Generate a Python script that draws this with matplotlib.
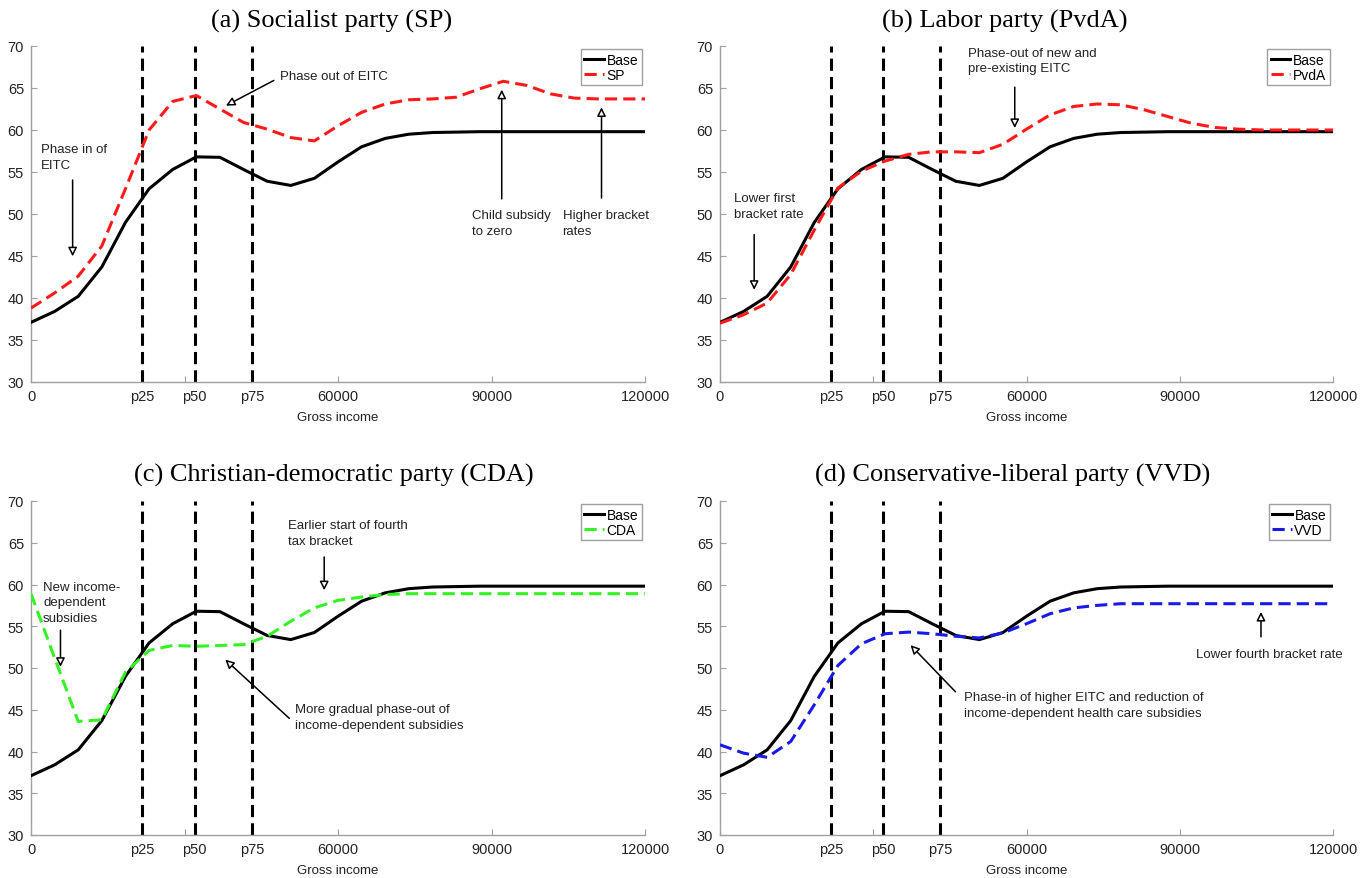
import matplotlib
matplotlib.use("Agg")
import matplotlib.pyplot as plt

plt.rcParams['font.family'] = ['Liberation Sans', 'DejaVu Sans']

# ---------------- data ----------------
income = [0, 4615, 9231, 13846, 18462, 23077, 27692, 32308, 36923, 41538, 46154,
          50769, 55385, 60000, 64615, 69231, 73846, 78462, 83077, 87692, 92308,
          96923, 101538, 106154, 110769, 115385, 120000]

base = [37.1, 38.4, 40.2, 43.7, 49.0, 53.0, 55.3, 56.8, 56.75, 55.3, 53.9,
        53.4, 54.25, 56.2, 58.0, 59.0, 59.5, 59.7, 59.75, 59.8, 59.8,
        59.8, 59.8, 59.8, 59.8, 59.8, 59.8]

sp = [38.8, 40.6, 42.6, 46.2, 53.0, 60.0, 63.4, 64.1, 62.5, 60.9, 60.1,
      59.1, 58.7, 60.5, 62.1, 63.1, 63.6, 63.7, 63.9, 64.9, 65.8,
      65.3, 64.3, 63.8, 63.7, 63.7, 63.7]

pvda = [37.0, 38.0, 39.4, 42.8, 48.1, 53.1, 55.1, 56.3, 57.1, 57.4, 57.4,
        57.3, 58.3, 60.1, 61.8, 62.8, 63.1, 63.0, 62.4, 61.6, 60.8,
        60.3, 60.1, 60.0, 60.0, 60.0, 60.0]

cda = [58.9, 51.2, 43.6, 43.8, 49.5, 52.1, 52.7, 52.6, 52.7, 52.8, 53.8,
       55.6, 57.2, 58.1, 58.5, 58.8, 58.9, 58.9, 58.9, 58.9, 58.9,
       58.9, 58.9, 58.9, 58.9, 58.9, 58.9]

vvd = [40.8, 39.8, 39.3, 41.2, 45.6, 50.3, 52.9, 54.1, 54.3, 54.1, 53.8,
       53.6, 54.2, 55.3, 56.5, 57.2, 57.5, 57.7, 57.7, 57.7, 57.7,
       57.7, 57.7, 57.7, 57.7, 57.7, 57.7]

percentiles = [21700, 32000, 43150]
percentile_labels = ['p25', 'p50', 'p75']
round_ticks = [0, 30000, 60000, 90000, 120000]
round_labels = ['0', '', '60000', '90000', '120000']
yticks = [30, 35, 40, 45, 50, 55, 60, 65, 70]

titles = ['(a) Socialist party (SP)', '(b) Labor party (PvdA)',
          '(c) Christian-democratic party (CDA)', '(d) Conservative-liberal party (VVD)']
party_labels = ['SP', 'PvdA', 'CDA', 'VVD']
party_series = [sp, pvda, cda, vvd]
party_colors = ['#ff1a1a', '#ff1a1a', '#33f422', '#1a1ae6']

# annotations: (text, text_xy, arrow_start, arrow_tip)
notes = [
    [("Phase in of\nEITC", (1950, 58.0), (8135, 54.05), (8135, 44.96)),
     ("Phase out of EITC", (48600, 66.7), (47460, 65.9), (38100, 62.9)),
     ("Child subsidy\nto zero", (86100, 50.14), (92000, 51.8), (92000, 64.8)),
     ("Higher bracket\nrates", (103900, 50.14), (111500, 51.9), (111500, 62.7))],
    [("Lower first\nbracket rate", (2740, 52.14), (6690, 47.55), (6690, 40.97)),
     ("Phase-out of new and\npre-existing EITC", (48600, 69.48), (57700, 65.1), (57700, 60.23))],
    [("New income-\ndependent\nsubsidies", (2370, 59.99), (5760, 54.53), (5760, 50.14)),
     ("Earlier start of fourth\ntax bracket", (50250, 67.37), (57300, 63.3), (57300, 59.31)),
     ("More gradual phase-out of\nincome-dependent subsidies", (51500, 45.36), (50500, 43.96), (37970, 51.0))],
    [("Phase-in of higher EITC and reduction of\nincome-dependent health care subsidies",
      (47830, 46.75), (46100, 47.15), (37300, 52.74)),
     ("Lower fourth bracket rate", (93200, 51.94), (105900, 53.73), (105900, 56.72))],
]

# ---------------- layout ----------------
W, H = 1368, 879
fig = plt.figure(figsize=(W / 100, H / 100), dpi=100)
boxes = [(31, 645, 47, 383), (720, 1333, 47, 383),
         (31, 645, 502, 836), (720, 1333, 502, 836)]
title_centers = [332, 1005, 334, 1013]
title_baselines = [28, 28, 482, 482]

spine_col = '#a0a0a0'
text_col = '#222222'

for i, (l, r, t, b) in enumerate(boxes):
    ax = fig.add_axes([l / W, 1 - b / H, (r - l) / W, (b - t) / H])
    for p in percentiles:
        ax.axvline(p, color='black', lw=2.2, ls=(0, (4, 2)), zorder=2)
    ax.plot(income, base, color='black', lw=2.2, label='Base', zorder=3)
    ax.plot(income, party_series[i], color=party_colors[i], lw=2.2,
            ls=(0, (4, 2)), label=party_labels[i], zorder=4)
    ax.set_xlim(0, 120000)
    ax.set_ylim(30, 70)
    ticks = round_ticks + percentiles
    labels = round_labels + percentile_labels
    order = sorted(range(len(ticks)), key=lambda k: ticks[k])
    ax.set_xticks([ticks[k] for k in order])
    ax.set_xticklabels([labels[k] for k in order])
    ax.set_yticks(yticks)
    ax.tick_params(direction='in', length=4, width=0.8, color=spine_col,
                   labelsize=10.5, labelcolor=text_col, pad=5)
    for s in ['top', 'right']:
        ax.spines[s].set_visible(False)
    for s in ['left', 'bottom']:
        ax.spines[s].set_color(spine_col)
        ax.spines[s].set_linewidth(1.0)
    ax.set_xlabel('Gross income', fontsize=9.5, color=text_col, labelpad=6)
    fig.text(title_centers[i] / W, 1 - title_baselines[i] / H, titles[i],
             fontsize=19, family=['Liberation Serif', 'DejaVu Serif'],
             ha='center', va='baseline')
    leg = ax.legend(loc='upper right', handlelength=1.4,
                    handletextpad=0.2, borderpad=0.25, labelspacing=0.05,
                    fancybox=False, framealpha=1, borderaxespad=0.25,
                    prop={'size': 10})
    leg.get_frame().set_edgecolor(spine_col)
    leg.get_frame().set_linewidth(1.0)
    for txt, txy, start, tip in notes[i]:
        ax.annotate('', xy=tip, xytext=start,
                    arrowprops=dict(arrowstyle='-|>', fc='white', ec='black',
                                    lw=1.1, mutation_scale=13, shrinkA=0, shrinkB=0),
                    zorder=5)
        ax.text(txy[0], txy[1] + 0.45, txt, fontsize=9.5, color=text_col,
                ha='left', va='top', linespacing=1.4, zorder=6)

fig.savefig('out.png', dpi=100)
